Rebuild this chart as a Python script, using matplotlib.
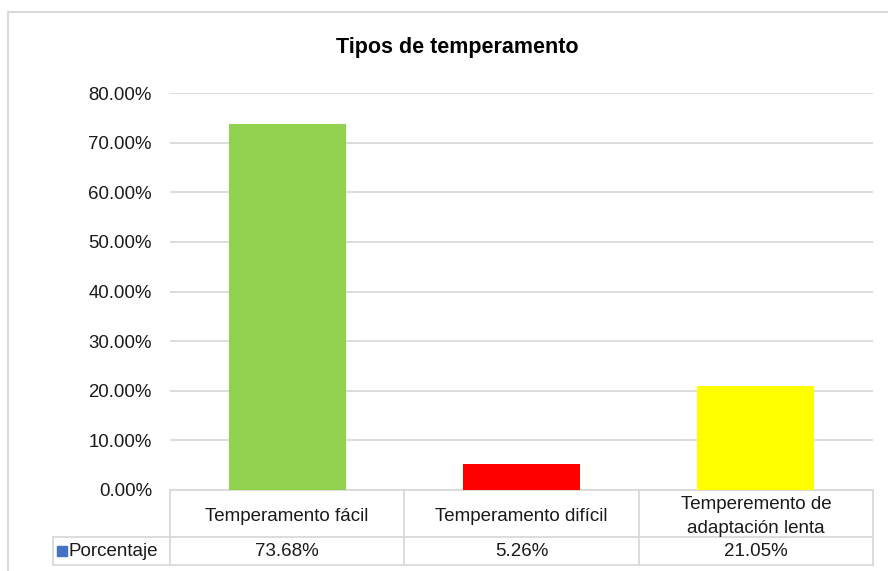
import matplotlib
matplotlib.use("Agg")
import matplotlib.pyplot as plt
import matplotlib.patheffects as pe
from matplotlib.transforms import blended_transform_factory
from matplotlib.lines import Line2D
from matplotlib.patches import Rectangle

plt.rcParams['font.family'] = ['Liberation Sans', 'DejaVu Sans']

title = "Tipos de temperamento"
categories = ["Temperamento fácil", "Temperamento difícil", "Temperemento de\nadaptación lenta"]
values = [0.7368, 0.0526, 0.2105]
value_labels = ["73.68%", "5.26%", "21.05%"]
series_name = "Porcentaje"
colors = ["#92D050", "#FF0000", "#FFFF00"]
yticks = [0.0, 0.1, 0.2, 0.3, 0.4, 0.5, 0.6, 0.7, 0.8]

W, H = 888, 571
fig = plt.figure(figsize=(W / 100, H / 100), dpi=100)
ax = fig.add_axes([170 / W, 1 - 490 / H, (873 - 170) / W, (490 - 93) / H])

x = list(range(len(categories)))
shadow = [pe.SimplePatchShadow(offset=(0, -1), shadow_rgbFace='#000000', alpha=0.12), pe.Normal()]
bars = ax.bar(x, values, width=0.5, color=colors, zorder=3)
for b in bars:
    b.set_path_effects(shadow)

ax.set_xlim(-0.5, len(categories) - 0.5)
ax.set_ylim(0, 0.8)
ax.set_yticks(yticks)
ax.set_yticklabels([f"{v*100:.2f}%" for v in yticks])
ax.tick_params(axis='y', length=0, pad=13, labelsize=13.4, labelcolor='#1a1a1a')
ax.set_xticks([])
for s in ax.spines.values():
    s.set_visible(False)
ax.yaxis.grid(True, color='#D9D9D9', linewidth=1.3, zorder=0)
ax.set_axisbelow(True)

# data table below the axes
grid_c = '#D9D9D9'
trans = blended_transform_factory(ax.transData, ax.transAxes)
h1 = -47 / 397
h2 = -75 / 397
lw = 1.3
for yy in [0, h1, h2]:
    ax.add_line(Line2D([-0.5, len(categories) - 0.5], [yy, yy], transform=trans,
                       color=grid_c, lw=lw, clip_on=False))
ax.add_line(Line2D([-1.0, -0.5], [h1, h1], transform=trans, color=grid_c, lw=lw, clip_on=False))
ax.add_line(Line2D([-1.0, -0.5], [h2, h2], transform=trans, color=grid_c, lw=lw, clip_on=False))
for xx in [i - 0.5 for i in range(len(categories) + 1)]:
    ax.add_line(Line2D([xx, xx], [0, h2], transform=trans, color=grid_c, lw=lw, clip_on=False))
ax.add_line(Line2D([-1.0, -1.0], [h1, h2], transform=trans, color=grid_c, lw=lw, clip_on=False))

for i, (c, v) in enumerate(zip(categories, value_labels)):
    ax.text(i, h1 / 2 - 3 / 397, c, transform=trans, ha='center', va='center', fontsize=13.5,
            color='#1a1a1a', linespacing=1.5)
    ax.text(i, (h1 + h2) / 2, v, transform=trans, ha='center', va='center', fontsize=13.5,
            color='#1a1a1a')

# legend key + series name
ax.add_patch(Rectangle((-0.983, (h1 + h2) / 2 - 5 / 397), 10 / 234.3, 10 / 397, transform=trans,
                       color='#4472C4', clip_on=False))
ax.text(-0.935, (h1 + h2) / 2, series_name, transform=trans, ha='left', va='center',
        fontsize=13.5, color='#1a1a1a')

# title
fig.text(457 / W, 1 - 48 / H, title, ha='center', va='center', fontsize=15.5,
         fontweight='bold', color='#000000')

# chart border
fig.add_artist(Line2D([8 / W, 8 / W], [0, 1 - 12 / H], transform=fig.transFigure,
                      color=grid_c, lw=1.5))
fig.add_artist(Line2D([8 / W, 1], [1 - 12 / H, 1 - 12 / H], transform=fig.transFigure,
                      color=grid_c, lw=1.5))

fig.savefig("out.png", dpi=100)
